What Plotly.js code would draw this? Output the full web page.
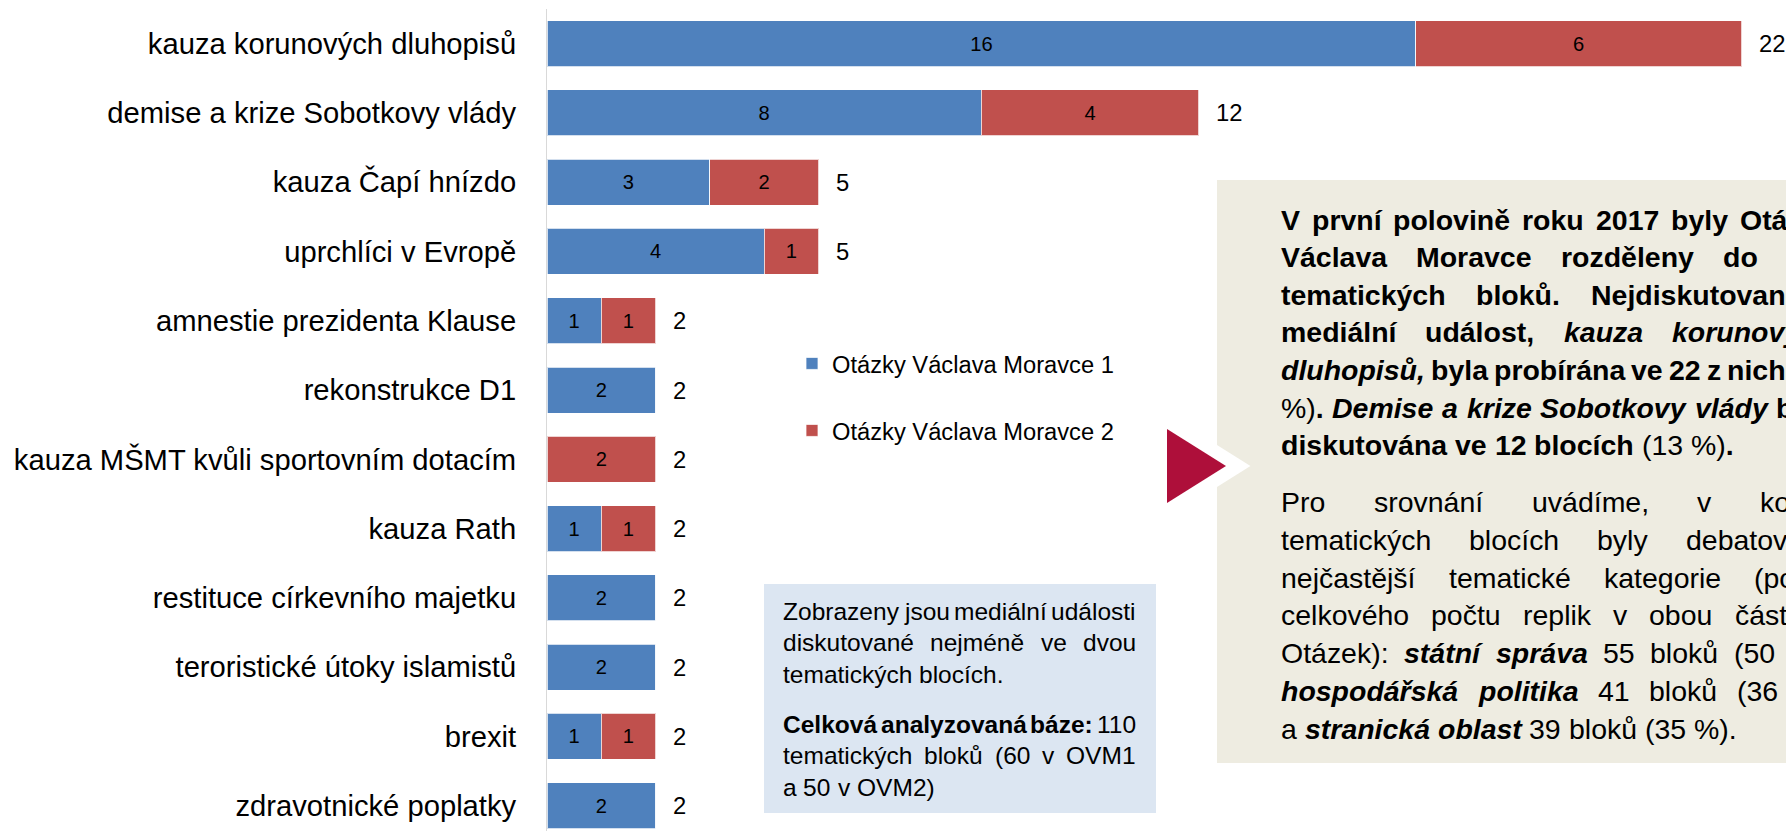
<!DOCTYPE html>
<html>
<head>
<meta charset="utf-8">
<script src="https://cdn.plot.ly/plotly-3.0.1.min.js"></script>
<style>
html,body{margin:0;padding:0;background:#ffffff;overflow:hidden}
#chart{width:1786px;height:831px}
</style>
</head>
<body>
<div id="chart"></div>
<script>
// ---------------- DATA ----------------
const categories = [
  'kauza korunových dluhopisů',
  'demise a krize Sobotkovy vlády',
  'kauza Čapí hnízdo',
  'uprchlíci v Evropě',
  'amnestie prezidenta Klause',
  'rekonstrukce D1',
  'kauza MŠMT kvůli sportovním dotacím',
  'kauza Rath',
  'restituce církevního majetku',
  'teroristické útoky islamistů',
  'brexit',
  'zdravotnické poplatky'
];
const ovm1 = [16, 8, 3, 4, 1, 2, 0, 1, 2, 2, 1, 2];
const ovm2 = [6, 4, 2, 1, 1, 0, 2, 1, 0, 0, 1, 0];
const seriesNames = ['Otázky Václava Moravce 1', 'Otázky Václava Moravce 2'];
const seriesColors = ['#4F81BD', '#C0504D'];

// text box contents (* toggles bold, _ toggles italic)
const mainPara1 = [
  '*V první polovině roku 2017 byly Otázky',
  'Václava Moravce rozděleny do 110',
  'tematických bloků. Nejdiskutovanější',
  'mediální událost, _kauza korunových',
  'dluhopisů,_ byla probírána ve 22 z nich* (20',
  '%)*. _Demise a krize Sobotkovy vlády_ byla',
  'diskutována ve 12 blocích* (13 %)*.*'
];
const mainPara2 = [
  'Pro srovnání uvádíme, v kolika',
  'tematických blocích byly debatovány',
  'nejčastější tematické kategorie (podle',
  'celkového počtu replik v obou částech',
  'Otázek): *_státní správa_* 55 bloků (50 %),',
  '*_hospodářská politika_* 41 bloků (36 %)',
  'a *_stranická oblast_* 39 bloků (35 %).'
];
const notePara1 = [
  'Zobrazeny jsou mediální události',
  'diskutované nejméně ve dvou',
  'tematických blocích.'
];
const notePara2 = [
  '*Celková analyzovaná báze:* 110',
  'tematických bloků (60 v OVM1',
  'a 50 v OVM2)'
];

// ---------------- GEOMETRY / STYLE ----------------
const FAMILY = 'Liberation Sans';
const W = 1786, H = 831, L = 547, T = 9;
const PW = W - L, PH = H - T;
const PX_PER_UNIT = 54.3;
const xp = px => (px - L) / PW;
const yp = py => 1 - (py - T) / PH;

const ctx = document.createElement('canvas').getContext('2d');
function segW(s, size) {
  ctx.font = (s.i ? 'italic ' : '') + (s.b ? 'bold ' : '') + size + 'px "' + FAMILY + '"';
  return ctx.measureText(s.t).width;
}
function wordW(segs, size) { return segs.reduce((a, s) => a + segW(s, size), 0); }
function fitSize(segs, target) { return 100 * target / wordW(segs, 100); }

function parsePara(lines) {
  let b = false, i = false;
  return lines.map(line => {
    const words = [];
    line.split(' ').forEach(w => {
      const segs = []; let buf = '';
      for (const ch of w) {
        if (ch === '*') { if (buf) segs.push({t: buf, b, i}); buf = ''; b = !b; }
        else if (ch === '_') { if (buf) segs.push({t: buf, b, i}); buf = ''; i = !i; }
        else buf += ch;
      }
      if (buf) segs.push({t: buf, b, i});
      if (segs.length) words.push(segs);
    });
    return words;
  });
}
function segHtml(s) {
  let t = s.t.replace(/&/g, '&amp;').replace(/</g, '&lt;');
  if (s.i) t = '<i>' + t + '</i>';
  if (s.b) t = '<b>' + t + '</b>';
  return t;
}

const catSize = fitSize([{t: 'kauza MŠMT kvůli sportovním dotacím'}], 503);
const legendSize = fitSize([{t: 'Otázky Václava Moravce 1'}], 282);
const noteSize = fitSize([{t: 'tematických blocích.'}], 221);
const mainSize = fitSize(parsePara(['*diskutována ve 12 blocích* (13 %)*.*'])[0].flat()
  .concat([{t: '   '}]), 437);
const totalSize = fitSize([{t: '12'}], 26.5);
const insideSize = fitSize([{t: '8'}], 11.2);

const annotations = [];
function justify(paraLines, x0, width, yStart, lineH, size) {
  const parsed = parsePara(paraLines);
  parsed.forEach((words, li) => {
    const widths = words.map(w => wordW(w, size));
    const sum = widths.reduce((a, v) => a + v, 0);
    const last = li === parsed.length - 1;
    const gap = (last || words.length < 2) ? segW({t: ' ', b: words[0][0].b}, size)
                                          : (width - sum) / (words.length - 1);
    let x = x0;
    const y = yStart + li * lineH;
    words.forEach((w, k) => {
      annotations.push({
        xref: 'paper', yref: 'paper', x: xp(x), y: yp(y),
        xanchor: 'left', yanchor: 'middle', showarrow: false,
        borderpad: 0, borderwidth: 0,
        text: w.map(segHtml).join(''),
        font: {family: FAMILY, size: size, color: '#000000'}
      });
      x += widths[k] + gap;
    });
  });
}

justify(mainPara1, 1281, 552, 219.5, 37.6, mainSize);
justify(mainPara2, 1281, 552, 502, 37.8, mainSize);
justify(notePara1, 783, 353, 611, 31.8, noteSize);
justify(notePara2, 783, 353, 724, 31.8, noteSize);

// total labels
const totals = categories.map((c, k) => ovm1[k] + ovm2[k]);
categories.forEach((c, k) => {
  annotations.push({
    xref: 'x', yref: 'y', x: totals[k], y: c, xanchor: 'left', yanchor: 'middle',
    xshift: 15, showarrow: false, text: String(totals[k]),
    font: {family: FAMILY, size: totalSize, color: '#000000'}
  });
});

const shapes = [
  {type: 'rect', xref: 'paper', yref: 'paper', x0: xp(1217), x1: xp(1800), y0: yp(180), y1: yp(763),
   fillcolor: '#EEECE1', line: {width: 0}, layer: 'below'},
  {type: 'rect', xref: 'paper', yref: 'paper', x0: xp(764), x1: xp(1156), y0: yp(584), y1: yp(813),
   fillcolor: '#DCE6F2', line: {width: 0}, layer: 'below'},
  {type: 'path', xref: 'paper', yref: 'paper',
   path: 'M' + xp(1167) + ',' + yp(429) + ' L' + xp(1226) + ',' + yp(466) + ' L' + xp(1167) + ',' + yp(503) + ' Z',
   fillcolor: '#FFFFFF', line: {color: '#FFFFFF', width: 26}, layer: 'below'},
  {type: 'path', xref: 'paper', yref: 'paper',
   path: 'M' + xp(1167) + ',' + yp(429) + ' L' + xp(1226) + ',' + yp(466) + ' L' + xp(1167) + ',' + yp(503) + ' Z',
   fillcolor: '#AE0F3A', line: {width: 0}, layer: 'below'}
];

const traces = [ovm1, ovm2].map((vals, s) => ({
  type: 'bar', orientation: 'h', name: seriesNames[s],
  y: categories, x: vals,
  text: vals.map(v => v ? String(v) : ''), texttemplate: '%{text}',
  textposition: 'inside', insidetextanchor: 'middle', constraintext: 'none', textangle: 0,
  insidetextfont: {family: FAMILY, size: insideSize, color: '#000000'},
  marker: {color: seriesColors[s], line: {color: 'rgba(255,255,255,0.75)', width: 1}},
  legend: s === 0 ? 'legend' : 'legend2',
  hoverinfo: 'skip'
}));

const legendBase = {
  xanchor: 'left', yanchor: 'middle', bgcolor: 'rgba(0,0,0,0)', borderwidth: 0,
  font: {family: FAMILY, size: legendSize, color: '#000000'}
};

const layout = {
  width: W, height: H,
  margin: {l: L, r: 0, t: T, b: 0, pad: 0},
  paper_bgcolor: '#FFFFFF', plot_bgcolor: 'rgba(0,0,0,0)',
  barmode: 'stack', bargap: 0.336,
  showlegend: true,
  legend: Object.assign({x: xp(792), y: yp(363.5)}, legendBase),
  legend2: Object.assign({x: xp(792), y: yp(430.5)}, legendBase),
  xaxis: {range: [0, PW / PX_PER_UNIT], visible: false, fixedrange: true},
  yaxis: {
    type: 'category', categoryorder: 'array', categoryarray: categories,
    range: [categories.length - 1 + 0.365, -0.5],
    showline: true, linecolor: '#D9D9D9', linewidth: 1,
    ticks: '', showgrid: false, zeroline: false, automargin: false,
    ticklabelstandoff: 24, fixedrange: true,
    tickfont: {family: FAMILY, size: catSize, color: '#000000'}
  },
  shapes: shapes,
  annotations: annotations,
  font: {family: FAMILY}
};

Plotly.newPlot('chart', traces, layout, {staticPlot: true, displayModeBar: false});
</script>
</body>
</html>
